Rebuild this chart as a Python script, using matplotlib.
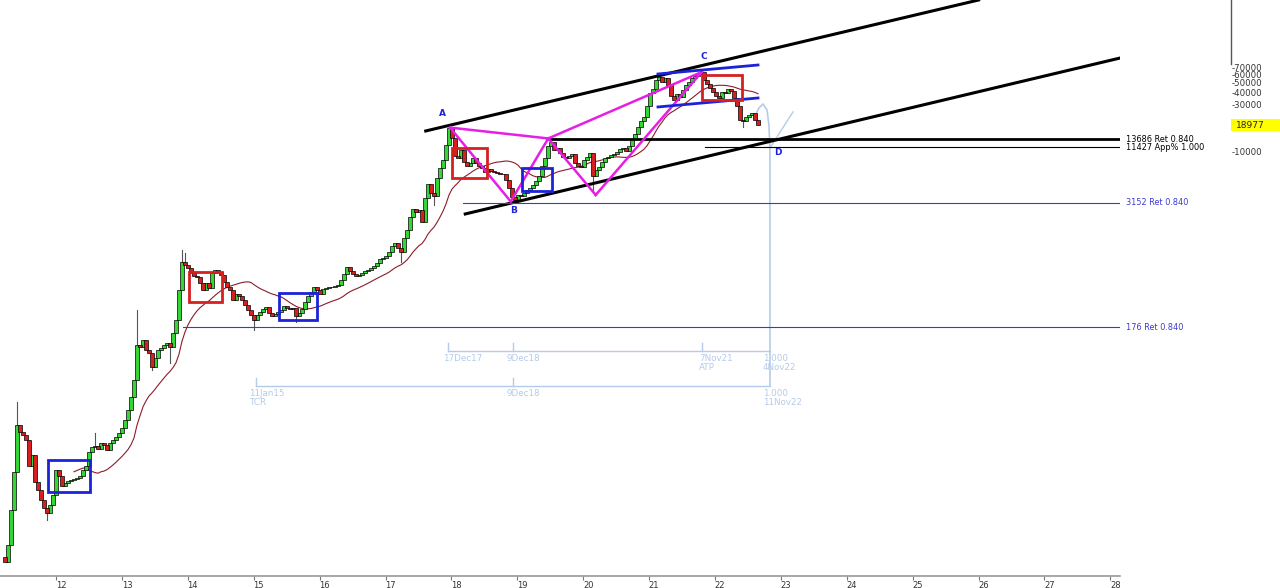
# -*- coding: utf-8 -*-
"""
BTC log chart with channel, harmonic pattern and time-cycle marks
"""
import numpy as np
import pandas as pd
import matplotlib
matplotlib.use('Agg')
import matplotlib.pyplot as plt
import matplotlib.transforms as mtransforms
from matplotlib.patches import Rectangle

# ========== data ==========
first_open = 0.863
closes = [
    0.768, 1.14, 2.56, 6.18, 18.4, 15.6, 14.6, 13.0, 7.10, 9.16, 4.90, 4.07,
    3.23, 2.68, 2.39, 2.88, 3.62, 6.47, 5.63, 4.47, 4.79, 5.01, 5.13, 5.25,
    5.37, 5.63, 6.47, 7.10, 9.82, 11.0, 11.3, 10.5, 12.1, 11.5, 10.3, 12.1,
    13.0, 13.9, 15.2, 17.1, 20.6, 26.0, 35.1, 52.0, 117, 112, 131, 104,
    97.3, 70.3, 86.7, 104, 109, 117, 123, 112, 155, 209, 419, 801,
    747, 697, 621, 579, 566, 492, 419, 492, 439, 621, 665, 635,
    593, 504, 449, 419, 332, 382, 364, 332, 296, 264, 235, 209,
    235, 251, 270, 282, 246, 229, 240, 251, 264, 289, 276, 270,
    276, 229, 246, 270, 317, 364, 400, 449, 419, 382, 429, 439,
    449, 452, 459, 470, 528, 607, 713, 650, 607, 579, 593, 621,
    650, 665, 697, 730, 782, 859, 879, 921, 1009, 1160, 1244, 1107,
    1009, 1396, 1680, 2270, 2735, 2550, 2670, 2023, 3526, 4875, 3960, 3690,
    5605, 7065, 8505, 12030, 17840, 14150, 9330, 8910, 10720, 8120, 7395, 7930,
    8910, 7930, 7395, 7065, 6440, 6900, 6590, 6440, 6290, 6150, 6200, 5350,
    4445, 3605, 3365, 3775, 3690, 3960, 4245, 4445, 4765, 5225, 5870, 7395,
    8910, 11750, 12900, 10720, 11225, 10000, 9120, 8910, 9330, 9770, 7930, 7395,
    7225, 8505, 9120, 10000, 5870, 6745, 7225, 8120, 8910, 9120, 9550, 9770,
    10235, 10970, 11100, 10470, 11750, 13830, 15530, 18260, 21000, 23030, 29700, 40140,
    44050, 54200, 58170, 51760, 56840, 48310, 37410, 34120, 39230, 36560, 43050, 48310,
    51760, 56840, 59530, 62370, 65310, 54200, 49440, 45080, 41110, 37410, 35730, 41110,
    40140, 44050, 42070, 35730, 29700, 21480, 21000, 23030, 24100, 25230, 21480, 18977,
]
upper_wicks = [(4, 31.3), (30, 15.2), (44, 263), (59, 1057), (60, 990),
               (148, 19130), (182, 13830), (232, 69980)]
lower_wicks = [(14, 2.03), (49, 65.6), (55, 77.1), (83, 166), (97, 200),
               (132, 801), (143, 3000), (170, 3140), (196, 4245), (246, 18260)]

# 横向水平位
levels = [13686, 11427, 3152, 176]
level_start = [2019.45, 2021.85, 2018.18, 2013.93]
level_text = ['13686 Ret 0.840', '11427 App% 1.000', '3152 Ret 0.840', '176 Ret 0.840']

# 通道
upper_ch_t, upper_ch_p = [2017.61, 2026.0], [16650, 345900]
lower_ch_t, lower_ch_p = [2018.21, 2028.15], [2434, 90300]

# 谐波形态
pat_t = [2017.98, 2018.90, 2019.47, 2020.19, 2021.80]
pat_p = [18000, 3250, 14000, 3780, 65300]
pat_legs = [(0, 1), (1, 2), (2, 3), (3, 4), (0, 2), (2, 4)]

# C点附近的蓝色平行线
flag_t = [2021.135, 2022.653]
flag_top = [62330, 76740]
flag_bot = [29030, 35750]

# 方框 (t0, t1, low, high)
red_boxes = [(2018.01, 2018.54, 5605, 11230), (2021.80, 2022.41, 34120, 60910),
             (2014.02, 2014.52, 317, 635)]
blue_boxes = [(2011.88, 2012.52, 3.89, 8.16), (2015.38, 2015.96, 209, 391),
              (2019.07, 2019.53, 4147, 7065)]

point_names = ['A', 'B', 'C', 'D']
point_t = [2017.87, 2018.94, 2021.83, 2022.96]
point_p = [25230, 2609, 92400, 10000]

# 时间周期
cycle1_t, cycle1_p = [2017.95, 2022.83], 102
cycle1_ticks = [2017.95, 2018.94, 2021.80]
cycle2_t, cycle2_p = [2015.04, 2022.83], 45.3
cycle2_ticks = [2015.04, 2018.94]
tick_top1, tick_top2 = 122.6, 54.5
arc_t = [2022.607, 2022.668, 2022.728, 2022.789, 2022.819, 2022.834, 2022.834]
arc_p = [23550, 28360, 31110, 27070, 18980, 10700, 45.3]
ray_t, ray_p = [2022.834, 2023.183], [11230, 25850]
cycle_labels = [
    (2017.87, 95, '17Dec17'), (2018.84, 95, '9Dec18'),
    (2021.76, 95, '7Nov21\nATP'), (2022.73, 95, '1.000\n4Nov22'),
    (2014.93, 42.3, '11Jan15\nTCR'), (2018.84, 42.3, '9Dec18'),
    (2022.73, 42.3, '1.000\n11Nov22'),
]

axis_prices = [70000, 60000, 50000, 40000, 30000, 10000]
last_price = 18977

# ========== layout ==========
T0 = 2011.226
STEP = 3 / 65.9
W = 3.3 / 65.9

GREEN = '#33d633'
RED = '#d62020'
MAGENTA = '#e61ee6'
BLUE = '#1c22d8'
LBLUE = '#3a3ad0'
PALE = '#b4cbea'

fig = plt.figure(figsize=(12.8, 5.88), dpi=100)
ax = fig.add_axes([0, 12 / 588, 1120 / 1280, 576 / 588])
ax.set_yscale('log')
ax.set_xlim(2011.150, 2028.146)
ax.set_ylim(0.555, 345900)

c = np.array(closes, dtype=float)
o = np.r_[first_open, c[:-1]]
t = T0 + np.arange(len(c)) * STEP

# 均线
ma = pd.Series(c).rolling(24).mean()
ax.plot(t, ma, color='#8e1b2a', lw=0.8, zorder=2)

# 影线
for i, p in upper_wicks:
    ax.plot([t[i], t[i]], [max(o[i], c[i]), p], color='#555555', lw=0.8, zorder=2)
for i, p in lower_wicks:
    ax.plot([t[i], t[i]], [p, min(o[i], c[i])], color='#555555', lw=0.8, zorder=2)

# K线
up = c >= o
ax.bar(t[up], (c - o)[up], bottom=o[up], width=W, color=GREEN,
       edgecolor='black', lw=0.5, zorder=3)
ax.bar(t[~up], (o - c)[~up], bottom=c[~up], width=W, color=RED,
       edgecolor='black', lw=0.5, zorder=3)

# 通道
ax.plot(upper_ch_t, upper_ch_p, color='black', lw=2.2, zorder=4)
ax.plot(lower_ch_t, lower_ch_p, color='black', lw=2.2, zorder=4)

# 水平位
x_right = ax.get_xlim()[1]
lev_colors = ['black', 'black', LBLUE, LBLUE]
lev_lw = [2.0, 0.8, 0.8, 0.8]
for lv, st, col, lw in zip(levels, level_start, lev_colors, lev_lw):
    ax.plot([st, x_right], [lv, lv], color=col, lw=lw, zorder=4)

# 谐波
for a, b in pat_legs:
    ax.plot([pat_t[a], pat_t[b]], [pat_p[a], pat_p[b]], color=MAGENTA, lw=1.8, zorder=4)

ax.plot(flag_t, flag_top, color=BLUE, lw=2, zorder=4)
ax.plot(flag_t, flag_bot, color=BLUE, lw=2, zorder=4)

for t0, t1, lo, hi in red_boxes:
    ax.add_patch(Rectangle((t0, lo), t1 - t0, hi - lo, fill=False,
                           edgecolor=RED, lw=2, zorder=5))
for t0, t1, lo, hi in blue_boxes:
    ax.add_patch(Rectangle((t0, lo), t1 - t0, hi - lo, fill=False,
                           edgecolor=BLUE, lw=2, zorder=5))

for name, pt, pp in zip(point_names, point_t, point_p):
    ax.text(pt, pp, name, color=BLUE, fontsize=6.5, fontweight='bold',
            ha='center', va='center', zorder=6)

# 时间周期
ax.plot(cycle1_t, [cycle1_p, cycle1_p], color=PALE, lw=1, zorder=1)
for x in cycle1_ticks:
    ax.plot([x, x], [cycle1_p, tick_top1], color=PALE, lw=1, zorder=1)
ax.plot(cycle2_t, [cycle2_p, cycle2_p], color=PALE, lw=1, zorder=1)
for x in cycle2_ticks:
    ax.plot([x, x], [cycle2_p, tick_top2], color=PALE, lw=1, zorder=1)
ax.plot(arc_t, arc_p, color=PALE, lw=1.2, zorder=1)
ax.plot(ray_t, ray_p, color=PALE, lw=1, zorder=1)
for x, y, s in cycle_labels:
    ax.text(x, y, s, color=PALE, fontsize=6.3, ha='left', va='top',
            linespacing=0.95, zorder=1)

# 坐标轴
for side in ['top', 'left', 'right']:
    ax.spines[side].set_visible(False)
ax.spines['bottom'].set_color('#9a9a9a')
ax.spines['bottom'].set_linewidth(1.2)
ax.yaxis.set_visible(False)
years = np.arange(2012, 2029)
ax.set_xticks(years)
ax.set_xticklabels([str(y % 100) for y in years])
ax.tick_params(axis='x', length=3, color='#777777', labelsize=6,
               labelcolor='#333333', pad=0.5)
offset = mtransforms.ScaledTranslation(5 / 100, 0, fig.dpi_scale_trans)
for lab in ax.get_xticklabels():
    lab.set_transform(lab.get_transform() + offset)

# 右侧价格轴
tr_right = mtransforms.blended_transform_factory(fig.transFigure, ax.transData)
for lv, txt, col in zip(levels, level_text, lev_colors):
    ax.text(1126 / 1280, lv, txt, transform=tr_right, color=col,
            fontsize=5.9, ha='left', va='center', clip_on=False)
for p in axis_prices:
    ax.text(1232 / 1280, p, '-' + str(p), transform=tr_right, color='#333333',
            fontsize=6.2, ha='left', va='center', clip_on=False)
fig.add_artist(Rectangle((1231 / 1280, (588 - 131) / 588), 49 / 1280, 12 / 588,
                         transform=fig.transFigure, facecolor='#ffff00',
                         edgecolor='none', zorder=1))
fig.text(1236 / 1280, (588 - 125) / 588, str(last_price), color='#222222',
         fontsize=6.5, ha='left', va='center', zorder=5)
fig.add_artist(plt.Line2D([1231 / 1280, 1231 / 1280], [1, (588 - 64) / 588],
                          color='#555555', lw=1, transform=fig.transFigure))

fig.savefig('out.png', dpi=100)
